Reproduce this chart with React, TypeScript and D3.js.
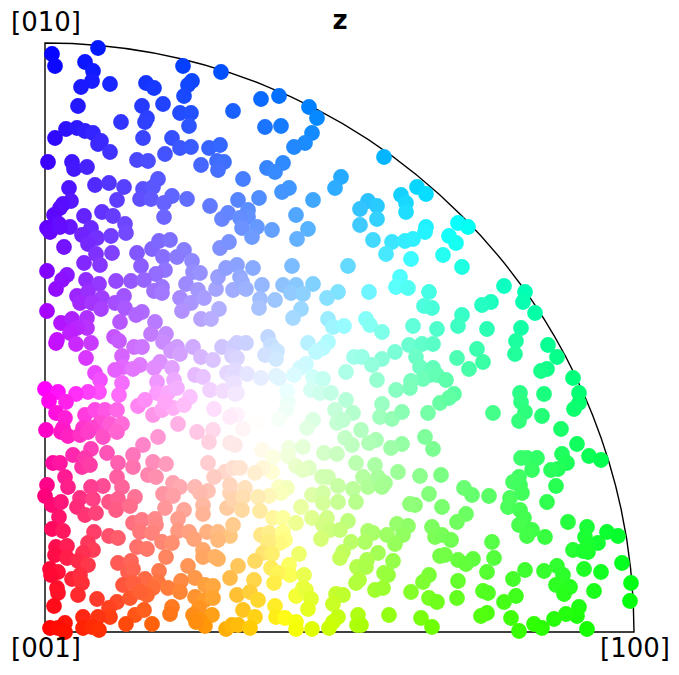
import React from 'react';
import * as d3 from 'd3';

// Grain directions, as [x, y] in projection units (the rim of the pole figure is 589)
const blueGrains: number[][] = [
  [53,584],[7,578],[10,566],[40,570],[48,561],[47,551],[36,545],[65,548],[101,549],[109,544],[138,566],[176,560],
  [147,551],[143,547],[139,536],[33,526],[97,526],[118,528],[135,519],[146,519],[144,506],[102,514],[100,510],[76,510],
  [188,521],[10,494],[21,503],[32,504],[40,501],[48,499],[56,491],[53,488],[65,480],[98,494],[127,494],[135,484],
  [146,485],[120,478],[164,484],[175,487],[3,470],[27,470],[29,463],[42,465],[92,472],[103,471],[156,467],[172,471],
  [179,470],[173,462],[50,447],[64,449],[79,445],[24,444],[113,453],[98,443],[108,445],[72,432],[95,433],[106,433],
  [127,436],[142,433],[119,429],[165,426],[26,431],[18,428],[15,424],[9,417],[57,420],[68,416],[39,416],[119,415],
  [177,413],[183,419],[80,408],[2,404],[14,408],[25,405],[46,404],
];

const cyanGrains: number[][] = [
  [216,533],[234,536],[264,525],[272,514],[220,505],[236,506],[267,499],[260,489],[249,485],[339,475],[238,469],
  [222,464],[230,460],[198,453],[296,455],[290,444],[244,444],[237,440],[372,445],[381,438],[356,437],[214,434],
  [193,432],[268,432],[361,429],[323,431],[332,426],[315,423],[361,420],[203,422],[203,415],[195,414],[251,417],
  [332,413],[315,407],[381,405],[212,405],[227,402],[263,403],[197,404],
];

const violetGrains: number[][] = [
  [5,400],[15,405],[37,397],[52,394],[43,388],[66,396],[81,399],[19,385],[51,378],[67,379],[92,379],[107,383],
  [114,391],[125,392],[118,375],[139,382],[132,375],[147,371],[96,366],[39,369],[55,367],[120,362],[111,358],[148,360],
  [155,359],[2,361],[22,357],[17,352],[11,343],[41,352],[54,348],[71,351],[86,351],[99,352],[141,348],[117,345],
  [109,341],[117,339],[153,342],[171,343],[188,342],[173,355],[181,364],[192,367],[175,384],[184,390],[32,336],[43,340],
  [57,334],[35,329],[47,329],[56,323],[70,329],[79,336],[80,324],[75,310],[97,320],[91,317],[135,334],[146,329],
  [137,321],[159,334],[174,323],[156,313],[166,313],[2,321],[16,309],[27,313],[42,314],[42,304],[32,304],[25,299],
  [11,289],[12,292],[31,288],[46,289],[41,274],[69,295],[74,291],[110,310],[106,298],[121,298],[118,290],[89,285],
  [97,285],[132,285],[126,281],[135,278],[148,285],[156,275],[177,285],[188,285],[192,289],[168,272],[187,276],[77,276],
  [78,265],[70,262],[95,267],[88,263],[115,270],[109,264],[127,264],[150,257],[158,255],[50,259],[55,252],[112,250],
  [129,252],[77,249],[54,240],[43,240],[31,238],[0,243],[13,240],[4,231],[21,230],[74,237],[112,239],[123,239],
  [132,244],[145,235],[165,242],[178,241],[192,239],[182,259],[187,254],[93,226],[100,232],[108,217],[117,222],[128,224],
  [139,227],[120,230],[169,223],[188,217],[133,208],[152,200],[11,219],[20,214],[40,217],[50,222],[60,222],[72,222],
  [55,209],[65,208],[77,208],[38,204],[47,204],[1,202],[18,204],
];

const centerGrains: number[][] = [
  [207,395],[252,393],[328,392],[347,390],[360,391],[368,393],[380,400],[341,378],[366,373],[247,366],[303,366],[208,364],
  [195,355],[197,350],[201,343],[217,347],[238,347],[251,347],[268,348],[246,339],[258,338],[230,332],[215,333],[214,324],
  [293,340],[282,334],[324,340],[355,355],[351,345],[363,344],[384,340],[379,326],[387,324],[256,323],[248,314],[283,313],
  [288,305],[299,306],[321,313],[325,307],[337,300],[368,306],[392,303],[223,295],[226,287],[201,289],[232,281],[220,277],
  [231,273],[263,289],[283,290],[278,284],[271,280],[364,287],[377,288],[388,288],[350,280],[371,275],[309,275],[317,275],
  [337,273],[327,267],[261,268],[255,264],[249,257],[301,260],[375,265],[388,264],[385,257],[378,253],[332,252],[366,251],
  [192,274],[190,262],[202,258],[216,254],[231,256],[234,254],[268,255],[278,253],[189,249],[190,238],[266,242],[275,239],
  [286,239],[242,241],[243,230],[241,222],[234,213],[351,242],[365,244],[301,232],[337,228],[290,222],[308,219],[335,215],
  [347,213],[357,220],[383,219],[395,229],[268,212],[292,209],[298,212],[262,204],[316,202],[192,217],[185,215],[213,210],
  [198,203],
];

const rimGrains: number[][] = [
  [413,409],[423,405],[404,396],[411,389],[398,377],[417,365],[459,346],[480,340],[478,330],[490,319],[446,330],[437,327],
  [417,317],[413,306],[442,303],[476,304],[471,291],[470,278],[503,287],[512,275],[432,283],[412,274],[438,270],[424,263],
  [502,263],[496,261],[528,254],[392,257],[401,252],[409,238],[404,234],[475,239],[476,230],[480,220],[474,211],[499,238],
  [497,216],[534,239],[534,229],[529,223],[448,219],[516,203],
];

const redGrains: number[][] = [
  [16,200],[23,196],[35,197],[43,200],[58,195],[72,200],[98,187],[113,195],[168,202],[164,190],[185,189],[190,187],
  [8,169],[15,169],[28,177],[37,165],[46,183],[40,174],[45,167],[62,179],[73,169],[88,177],[88,165],[108,170],
  [121,168],[103,157],[111,155],[163,169],[180,160],[169,155],[188,164],[20,155],[23,145],[72,155],[77,145],[58,146],
  [46,145],[2,147],[0,136],[7,127],[16,130],[35,134],[48,133],[32,125],[40,117],[51,119],[64,130],[73,133],
  [71,122],[90,135],[85,126],[118,138],[128,149],[135,145],[128,136],[150,145],[163,141],[155,139],[120,124],[139,122],
  [158,127],[158,118],[185,139],[185,147],[182,124],[188,132],[14,115],[7,103],[18,101],[49,100],[88,109],[97,112],
  [110,113],[111,107],[133,113],[95,100],[107,99],[133,101],[144,100],[162,100],[173,100],[185,96],[188,107],[64,96],
  [73,94],[117,90],[127,89],[149,93],[173,92],[11,85],[22,86],[10,77],[22,74],[43,89],[48,82],[38,79],
  [33,71],[43,67],[92,85],[102,83],[158,82],[121,75],[158,75],[173,73],[170,75],[5,63],[13,60],[6,57],
  [73,69],[86,71],[83,60],[88,63],[114,61],[100,53],[143,66],[150,54],[193,66],[185,54],[27,53],[35,57],
  [37,49],[78,47],[88,49],[113,50],[108,44],[136,51],[123,44],[135,40],[160,47],[168,46],[12,44],[13,39],
  [33,37],[52,33],[72,30],[85,34],[102,37],[95,40],[150,35],[160,32],[168,34],[192,37],[9,26],[64,24],
  [65,15],[53,15],[38,15],[90,17],[99,22],[127,25],[125,18],[154,24],[148,17],[167,17],[155,12],[198,22],
  [20,9],[5,4],[13,4],[20,0],[38,4],[47,5],[54,2],[81,8],[107,8],[160,6],[151,10],[181,3],
  [187,7],[193,7],
];

const yellowGrains: number[][] = [
  [300,194],[307,187],[331,192],[324,189],[357,188],[346,184],[380,195],[388,183],[217,182],[228,175],[244,184],[258,185],
  [243,176],[279,179],[292,178],[311,169],[251,166],[264,164],[258,162],[227,160],[218,164],[210,159],[195,164],[330,167],
  [353,160],[375,156],[396,157],[277,155],[283,155],[318,155],[323,145],[333,155],[340,149],[337,145],[293,146],[308,143],
  [234,145],[242,144],[236,139],[200,144],[198,135],[224,136],[213,135],[267,137],[278,139],[278,129],[293,130],[311,130],
  [384,138],[370,127],[365,128],[256,125],[215,121],[197,122],[397,125],[267,114],[282,114],[303,111],[228,114],[238,114],
  [251,109],[278,107],[285,102],[295,102],[276,93],[323,101],[328,99],[342,97],[352,108],[363,106],[358,97],[350,88],
  [387,105],[390,95],[320,90],[306,90],[216,97],[224,99],[238,100],[240,92],[235,89],[223,90],[218,79],[227,78],
  [254,78],[298,80],[295,74],[333,79],[348,71],[322,72],[312,65],[395,76],[210,71],[226,64],[244,67],[245,57],
  [233,59],[259,57],[321,65],[339,59],[343,57],[384,57],[378,50],[209,52],[229,49],[258,44],[311,49],[314,52],
  [330,42],[338,44],[205,40],[251,36],[261,42],[291,38],[298,37],[366,40],[384,34],[392,30],[213,32],[288,28],
  [266,33],[263,23],[230,26],[210,15],[231,15],[240,14],[251,10],[293,15],[288,10],[313,17],[344,17],[376,14],
  [205,4],[251,3],[267,3],[284,4],[312,7],[316,7],[387,5],
];

const greenGrains: number[][] = [
  [532,188],[544,176],[556,172],[476,174],[482,174],[492,174],[517,178],[522,169],[513,163],[506,162],[487,162],[474,155],
  [468,150],[475,147],[511,146],[419,144],[427,137],[444,136],[465,134],[477,139],[502,130],[463,125],[475,122],[479,114],
  [421,118],[412,110],[523,110],[474,107],[487,102],[482,96],[500,95],[542,105],[540,95],[562,100],[573,96],[397,97],
  [406,92],[447,90],[553,89],[543,87],[528,82],[538,81],[543,80],[400,77],[413,72],[421,68],[428,73],[449,74],
  [577,69],[512,66],[539,63],[556,60],[480,62],[499,61],[518,57],[442,60],[586,49],[468,53],[413,51],[511,47],
  [525,45],[519,38],[549,41],[438,41],[443,39],[471,36],[412,34],[459,30],[585,31],[534,25],[532,16],[442,19],
  [436,16],[466,14],[521,18],[509,13],[489,8],[497,4],[474,1],[542,3],
];

const grains = [
  ...blueGrains, ...cyanGrains, ...violetGrains, ...centerGrains,
  ...rimGrains, ...redGrains, ...yellowGrains, ...greenGrains,
];

const rim = 589;
const cornerLabels = [
  { text: '[010]', at: [0, rim], dy: -12 },
  { text: '[001]', at: [0, 0], dy: 25 },
  { text: '[100]', at: [rim, 0], dy: 25 },
];

const width = 679;
const height = 675;
const font = '"DejaVu Sans", sans-serif';

const xScale = d3.scaleLinear().domain([0, rim]).range([45, 634]);
const yScale = d3.scaleLinear().domain([0, rim]).range([632, 43]);

// Undo the stereographic projection, z/x/y become r/g/b, then pale the middle but leave the edges saturated
const ipfColor = (px: number, py: number) => {
  const X = px / rim;
  const Y = py / rim;
  const s = X * X + Y * Y;
  const dir = [(1 - s) / (1 + s), (2 * X) / (1 + s), (2 * Y) / (1 + s)].map(v => Math.max(v, 0));
  const top = d3.max(dir) as number;
  const unit = dir.map(v => v / top);
  const sat = 1 - (d3.min(unit) as number);
  const lift = Math.sqrt(sat);
  const [r, g, b] = unit.map(v => Math.round((1 - (1 - v) * lift) * 255));
  return d3.rgb(r, g, b).formatHex();
};

const outline = d3.arc()({
  innerRadius: 0,
  outerRadius: xScale(rim) - xScale(0),
  startAngle: 0,
  endAngle: Math.PI / 2,
}) as string;

const App = () => {
  return (
    <svg width={width} height={height} style={{ position: 'absolute', left: 0, top: 0 }}>
      <path
        d={outline}
        transform={`translate(${xScale(0)},${yScale(0)})`}
        fill="none"
        stroke="#000"
        strokeWidth={1.4}
      />
      {grains.map((g, i) => (
        <circle key={i} cx={xScale(g[0])} cy={yScale(g[1])} r={7.9} fill={ipfColor(g[0], g[1])} />
      ))}
      <text x={340} y={29} textAnchor="middle" fontFamily={font} fontSize={26} fontWeight="bold">z</text>
      {cornerLabels.map(l => (
        <text
          key={l.text}
          x={xScale(l.at[0]) + 1}
          y={yScale(l.at[1]) + l.dy}
          textAnchor="middle"
          fontFamily={font}
          fontSize={26}
        >
          {l.text}
        </text>
      ))}
    </svg>
  );
};

export default App;
